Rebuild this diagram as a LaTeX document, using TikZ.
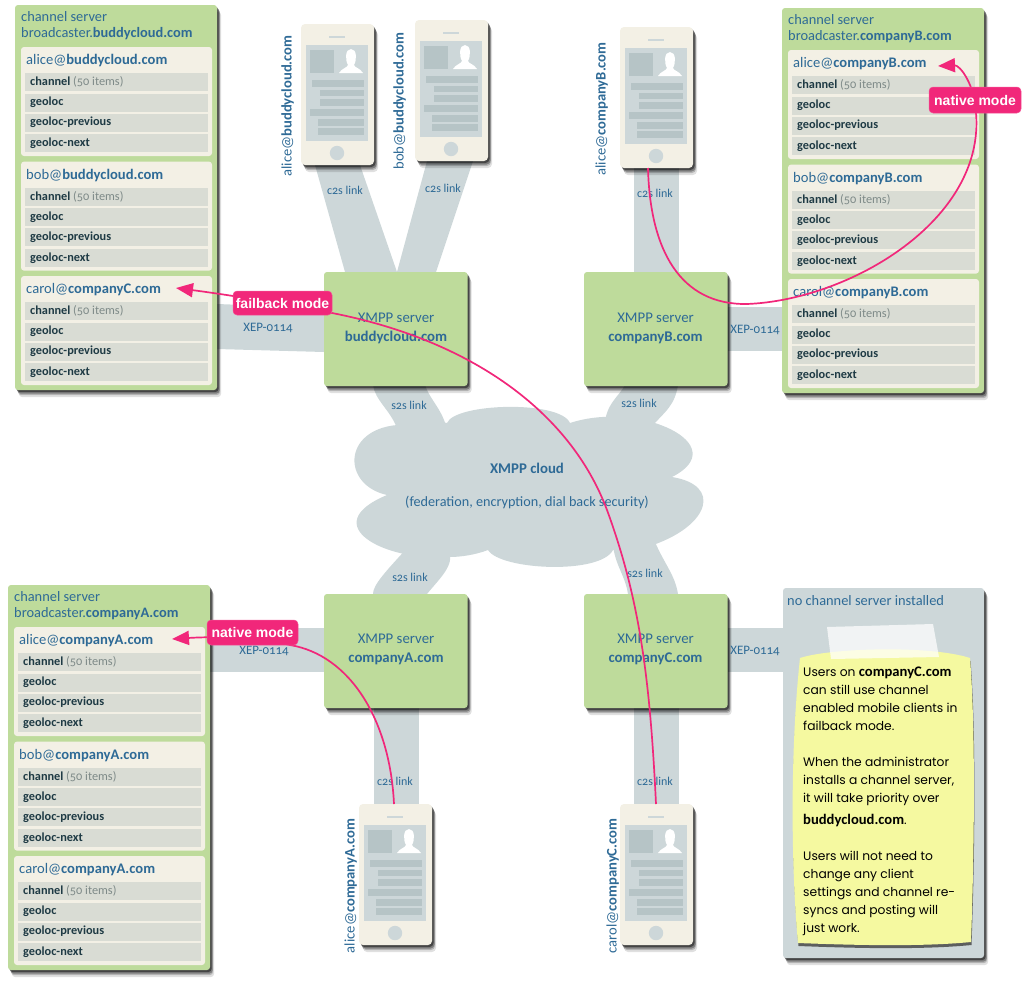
\documentclass[tikz,border=0pt]{standalone}
\usepackage{fontspec}
\setmainfont{Carlito}[Numbers=OldStyle]
\newfontfamily\notefont{Poppins}
\newfontfamily\tagfont{Liberation Sans}
\usetikzlibrary{shadows,arrows.meta}
\definecolor{panelgreen}{HTML}{BEDB9B}
\definecolor{cardcream}{HTML}{F3F0E5}
\definecolor{rowgrey}{HTML}{D9DCD4}
\definecolor{inkblue}{HTML}{2E6A96}
\definecolor{rowink}{HTML}{1E3A44}
\definecolor{mutedgrey}{HTML}{7E8A88}
\definecolor{bandgrey}{HTML}{CDD7D9}
\definecolor{boxgrey}{HTML}{B6C4C6}
\definecolor{noteyellow}{HTML}{F5F9A0}
\definecolor{hotpink}{HTML}{F1277A}
\pgfdeclarelayer{bg}
\pgfdeclarelayer{top}
\pgfsetlayers{bg,main,top}
\tikzset{
  softshad/.style={
    general shadow={fill=black,opacity=.12,shadow xshift=4pt,shadow yshift=-7pt},
    general shadow={fill=black,opacity=.2,shadow xshift=3pt,shadow yshift=-5pt},
    general shadow={fill=black,opacity=.3,shadow xshift=2.5pt,shadow yshift=-3.5pt},
    general shadow={fill=black,opacity=.45,shadow xshift=1.5pt,shadow yshift=-2pt}},
  cornerbox/.style={anchor=north west,inner sep=0pt,outer sep=0pt,rounded corners=3pt},
  panelbox/.style={cornerbox,fill=panelgreen,minimum width=202pt,minimum height=385pt,softshad},
  cardbox/.style={cornerbox,fill=cardcream,minimum width=191pt,minimum height=109pt},
  rowbox/.style={anchor=north west,inner sep=0pt,outer sep=0pt,fill=rowgrey,minimum width=183pt,minimum height=18pt},
  serverbox/.style={cornerbox,fill=panelgreen,minimum width=143.5pt,minimum height=114pt,softshad},
  phonebox/.style={cornerbox,rounded corners=4pt,fill=cardcream,minimum width=73pt,minimum height=141pt,softshad},
  txt/.style={inner sep=0pt,text height=.72em,text depth=.22em,text=inkblue,yshift=-2pt},
  titletxt/.style={txt,anchor=west,font=\fontsize{14.4}{16}\selectfont},
  headtxt/.style={txt,anchor=west,font=\fontsize{14.6}{16}\selectfont},
  rowtxt/.style={txt,anchor=west,text=rowink,font=\fontsize{12.3}{14}\bfseries\selectfont},
  smalltxt/.style={txt,font=\fontsize{12}{14}\selectfont},
  xeptxt/.style={txt,font=\fontsize{12.9}{14}\selectfont},
  servertxt/.style={txt,font=\fontsize{14.8}{16}\selectfont},
  cloudtxt/.style={txt,font=\fontsize{14.2}{16}\selectfont},
  band/.style={fill=bandgrey},
  pinkline/.style={draw=hotpink,line width=1.7pt},
  pinkarrow/.style={pinkline,-{Triangle[length=17pt,width=14pt]}},
  tagbox/.style={fill=hotpink,text=white,rounded corners=4pt,inner sep=0pt,draw=hotpink!80!white,line width=.5pt,
    font=\tagfont\fontsize{14}{16}\bfseries\selectfont},
}
\newcommand{\usercard}[4]{% prefix, y rel, user, domain
  \node[cardbox] (#1) at (6,#2) {};
  \node[headtxt] (#1h) at (11,#2+13) {#3@\textbf{#4}};
  \node[rowbox] (#1r1) at (10,#2+26) {};
  \node[rowtxt] (#1t1) at (15,#2+34) {channel \textcolor{mutedgrey}{\mdseries (50 items)}};
  \node[rowbox] (#1r2) at (10,#2+46.5) {};
  \node[rowtxt] (#1t2) at (15,#2+54) {geoloc};
  \node[rowbox] (#1r3) at (10,#2+66.5) {};
  \node[rowtxt] (#1t3) at (15,#2+74) {geoloc-previous};
  \node[rowbox] (#1r4) at (10,#2+87) {};
  \node[rowtxt] (#1t4) at (15,#2+95) {geoloc-next};
}
\newcommand{\chanpanel}[7]{% prefix,x,y,domain,dom alice,dom bob,dom carol
  \begin{scope}[shift={(#2,#3)}]
    \node[panelbox] (#1) at (0,0) {};
    \node[titletxt] (#1ta) at (6,12) {channel server};
    \node[titletxt] (#1tb) at (6,28) {broadcaster.\textbf{#4}};
    \usercard{#1a}{42}{alice}{#5}
    \usercard{#1b}{156.6}{bob}{#6}
    \usercard{#1c}{271}{carol}{#7}
  \end{scope}
}
\newcommand{\phone}[3]{% name,x,y
  \node[phonebox] (#1) at (#2,#3) {};
  \begin{scope}[shift={(#2,#3)}]
    \fill[bandgrey] (28,12) rectangle (44,13.6);
    \fill[bandgrey] (5,21) rectangle (67,117);
    \fill[boxgrey] (9,26) rectangle (33,49);
    \fill[white] (38,49) .. controls (41,44) and (46,44) .. (47,41) .. controls (44,36) and (44,25) .. (50,25)
      .. controls (56,25) and (56,36) .. (53,41) .. controls (54,44) and (59,44) .. (62,49) -- cycle;
    \fill[boxgrey] (11,56) rectangle (63,63);
    \fill[boxgrey] (19,65.5) rectangle (63,72);
    \fill[boxgrey] (19,75) rectangle (63,82);
    \fill[boxgrey] (9,85) rectangle (63,92);
    \fill[boxgrey] (17,95) rectangle (63,102);
    \fill[boxgrey] (17,104) rectangle (63,111);
    \fill[bandgrey] (36,129) circle (7.2);
  \end{scope}
}
\begin{document}
\begin{tikzpicture}[x=1pt,y=-1pt]
\useasboundingbox (0,0) rectangle (1022,983);

% servers
\node[serverbox] (srvbuddy) at (324,272) {};
\node[serverbox] (srvb) at (584,272) {};
\node[serverbox] (srva) at (324,594) {};
\node[serverbox] (srvc) at (584,594) {};
\node[servertxt] (srvbuddya) at (396,318) {XMPP server};
\node[servertxt] (srvbuddyb) at (396,337) {\textbf{buddycloud.com}};
\node[servertxt] (srvba) at (655.5,318) {XMPP server};
\node[servertxt] (srvbb) at (655.5,337) {\textbf{companyB.com}};
\node[servertxt] (srvaa) at (396,639) {XMPP server};
\node[servertxt] (srvab) at (396,658) {\textbf{companyA.com}};
\node[servertxt] (srvca) at (655.5,639) {XMPP server};
\node[servertxt] (srvcb) at (655.5,658) {\textbf{companyC.com}};

% channel panels
\chanpanel{pbuddy}{15}{5}{buddycloud.com}{buddycloud.com}{buddycloud.com}{companyC.com}
\chanpanel{pcompb}{782}{8}{companyB.com}{companyB.com}{companyB.com}{companyB.com}
\chanpanel{pcompa}{8}{585}{companyA.com}{companyA.com}{companyA.com}{companyA.com}

% phones
\phone{phalice}{301}{24}
\phone{phbob}{415}{20}
\phone{phb}{620}{27}
\phone{pha}{359}{804}
\phone{phc}{620}{804}

% phone labels
\node[headtxt,anchor=center,rotate=90] (lblalice) at (289,104) {alice@\textbf{buddycloud.com}};
\node[headtxt,anchor=center,rotate=90] (lblbob) at (401,99) {bob@\textbf{buddycloud.com}};
\node[headtxt,anchor=center,rotate=90] (lblb) at (603,107) {alice@\textbf{companyB.com}};
\node[headtxt,anchor=center,rotate=90] (lbla) at (352,884) {alice@\textbf{companyA.com}};
\node[headtxt,anchor=center,rotate=90] (lblc) at (614,884) {carol@\textbf{companyC.com}};

% grey panel with note
\node[cornerbox,fill=bandgrey,minimum width=201pt,minimum height=370pt,softshad] (nochan) at (783,588) {};
\node[titletxt] (nochant) at (787,601) {no channel server installed};
\fill[noteyellow,general shadow={fill=black!75,opacity=.8,shadow xshift=.5pt,shadow yshift=-3pt}]
  (800,658) .. controls (830,648) and (930,645) .. (970,658)
  .. controls (975,720) and (975,830) .. (971,942)
  .. controls (920,947) and (850,945) .. (798,943)
  .. controls (792,880) and (789,760) .. (800,658) -- cycle;
\fill[white,opacity=.72] (827,627) -- (933,624) -- (939,657) -- (831,659) -- cycle;
\node[anchor=north west,inner sep=0pt,align=left,text=black,
  font=\notefont\fontsize{12.3}{18}\selectfont] (notetxt) at (803,667) {%
  Users on {\fontspec{Carlito}\fontsize{14.6}{18}\bfseries\selectfont companyC.com}\\
  can still use channel\\
  enabled mobile clients in\\
  failback mode.\\[18pt]
  When the administrator\\
  installs a channel server,\\
  it will take priority over\\[4pt]
  {\fontspec{Carlito}\fontsize{14.6}{18}\bfseries\selectfont buddycloud.com}.\\[18pt]
  Users will not need to\\
  change any client\\
  settings and channel re-\\
  syncs and posting will\\
  just work.};

% links behind everything
\begin{pgfonlayer}{bg}
  \fill[band] ([xshift=14pt]phalice.south west) -- ([xshift=59pt]phalice.south west)
     -- ([xshift=73pt]srvbuddy.north west) -- ([xshift=21pt]srvbuddy.north west) -- cycle;
  \fill[band] ([xshift=12pt]phbob.south west) -- ([xshift=58pt]phbob.south west)
     -- ([xshift=112pt]srvbuddy.north west) -- ([xshift=73pt]srvbuddy.north west) -- cycle;
  \fill[band] ([xshift=14pt]phb.south west) -- ([xshift=59pt]phb.south west)
     -- ([xshift=95pt]srvb.north west) -- ([xshift=50pt]srvb.north west) -- cycle;
  \fill[band] ([xshift=15pt]pha.north west) -- ([xshift=60pt]pha.north west)
     -- ([xshift=95pt]srva.south west) -- ([xshift=50pt]srva.south west) -- cycle;
  \fill[band] ([xshift=14pt]phc.north west) -- ([xshift=59pt]phc.north west)
     -- ([xshift=95pt]srvc.south west) -- ([xshift=50pt]srvc.south west) -- cycle;
  % XEP-0114
  \fill[band] (pbuddy.east |- 0,304) -- (srvbuddy.west |- 0,308) -- (srvbuddy.west |- 0,352) -- (pbuddy.east |- 0,349) -- cycle;
  \fill[band] (srvb.east |- 0,307) rectangle (pcompb.west |- 0,351);
  \fill[band] (pcompa.east |- 0,628) rectangle (srva.west |- 0,672);
  \fill[band] (srvc.east |- 0,628) rectangle (nochan.west |- 0,672);
  % cloud
  \fill[band] (447,423) .. controls (455,403) and (560,400) .. (570,423)
    .. controls (640,400) and (735,445) .. (672,477)
    .. controls (722,485) and (710,525) .. (653,545)
    .. controls (640,550) and (625,552) .. (613,550)
    .. controls (600,575) and (500,570) .. (488,550)
    .. controls (475,555) and (460,557) .. (450,557)
    .. controls (385,562) and (315,525) .. (387,495)
    .. controls (342,485) and (342,430) .. (397,425)
    .. controls (415,420) and (435,420) .. (447,423) -- cycle;
  % s2s links
  \fill[band] (373,385) .. controls (375,400) and (390,410) .. (397,428) -- (447,430)
    .. controls (443,410) and (430,400) .. (425,385) -- cycle;
  \fill[band] (625,385) .. controls (620,395) and (605,405) .. (605,425) -- (653,425)
    .. controls (665,412) and (675,405) .. (678,385) -- cycle;
  \fill[band] (373,594) .. controls (373,585) and (385,572) .. (410,545) -- (449,550)
    .. controls (455,565) and (440,578) .. (427,594) -- cycle;
  \fill[band] (613,545) .. controls (615,565) and (625,575) .. (628,594) -- (678,594)
    .. controls (675,575) and (665,565) .. (655,542) -- cycle;
\end{pgfonlayer}

% link and cloud labels
\node[smalltxt] (c2sa) at (345,190) {c2s link};
\node[smalltxt] (c2sb) at (443,188) {c2s link};
\node[smalltxt] (c2sc) at (655,193) {c2s link};
\node[smalltxt] (c2sd) at (395,781) {c2s link};
\node[smalltxt] (c2se) at (655,781) {c2s link};
\node[smalltxt] (s2sa) at (409,405) {s2s link};
\node[smalltxt] (s2sb) at (639,403) {s2s link};
\node[smalltxt] (s2sc) at (410,577) {s2s link};
\node[smalltxt] (s2sd) at (645,573) {s2s link};
\node[xeptxt] (xepa) at (268,327) {XEP-0114};
\node[xeptxt] (xepb) at (755,329) {XEP-0114};
\node[xeptxt] (xepc) at (264,650) {XEP-0114};
\node[xeptxt] (xepd) at (755,650) {XEP-0114};
\node[servertxt] (cloudt) at (527,469) {\textbf{XMPP cloud}};
\node[cloudtxt] (cloudb) at (527,502) {(federation, encryption, dial back security)};

% pink mode connectors
\coordinate (tipb) at (938,66);
\coordinate (tipa) at (172,639);
\coordinate (tipc) at (176,288);
\coordinate (startb) at ([xshift=28pt]phb.south west);
\coordinate (starta) at ([xshift=35pt]pha.north west);
\coordinate (startc) at ([xshift=36pt]phc.north west);
\begin{pgfonlayer}{top}
  \draw[pinkarrow] (startb) .. controls (650,250) and (680,305) .. (747,304)
     .. controls (850,300) and (985,220) .. (976,113)
     .. controls (975,85) and (960,65) .. (tipb);
  \draw[pinkarrow] (starta) .. controls (390,720) and (350,655) .. (290,645)
     .. controls (260,638) and (220,636) .. (tipa);
  \draw[pinkarrow] (startc) .. controls (650,680) and (640,600) .. (607,510)
     .. controls (570,411) and (470,340) .. (332,313)
     .. controls (290,305) and (230,295) .. (tipc);
  \node[tagbox,minimum width=99pt,minimum height=24pt] (tagfail) at (282.5,303) {failback mode};
  \node[tagbox,minimum width=92pt,minimum height=26pt] (tagnatb) at (975,100) {native mode};
  \node[tagbox,minimum width=91pt,minimum height=25pt] (tagnata) at (252.5,632.5) {native mode};
\end{pgfonlayer}
\end{tikzpicture}
\end{document}
